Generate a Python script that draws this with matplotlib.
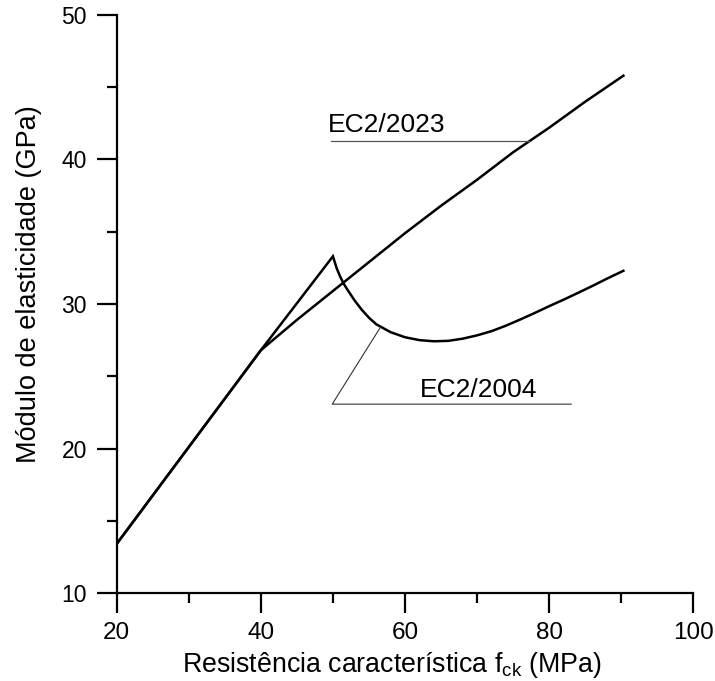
import matplotlib
matplotlib.use("Agg")
import matplotlib.pyplot as plt
from matplotlib.ticker import MultipleLocator

plt.rcParams['font.family'] = ['Liberation Sans', 'DejaVu Sans']
plt.rcParams['mathtext.fontset'] = 'custom'
plt.rcParams['mathtext.rm'] = 'Liberation Sans'
plt.rcParams['mathtext.it'] = 'Liberation Sans:italic'

# EC2/2023 curve
fck_2023 = [20, 40, 45, 50, 55, 60, 65, 70, 75, 80, 85, 90.3]
E_2023 = [13.4, 26.8, 28.9, 30.9, 32.9, 34.9, 36.8, 38.6, 40.5, 42.2, 44.0, 45.8]

# EC2/2004 curve
fck_2004 = [20, 40, 50, 50.5, 51, 51.5, 52, 53, 54, 55, 56, 58, 60, 62, 64, 66, 68,
            70, 72, 74, 76, 78, 80, 82, 84, 86, 88, 90.3]
E_2004 = [13.4, 26.8, 33.3, 32.5, 31.9, 31.4, 31.0, 30.25, 29.6, 29.05, 28.6, 28.05,
          27.7, 27.5, 27.42, 27.45, 27.6, 27.83, 28.12, 28.5, 28.93, 29.38, 29.85,
          30.3, 30.77, 31.25, 31.75, 32.3]

# annotation leaders
lead_2023_x = [49.8, 77.2]
lead_2023_y = [41.3, 41.3]
lead_2004_x = [56.6, 49.9, 83.05]
lead_2004_y = [28.4, 23.07, 23.07]

fig = plt.figure(figsize=(7.15, 6.81), dpi=100)
ax = fig.add_axes([0.1632, 0.1292, 0.9697 - 0.1632, 0.978 - 0.1292])

ax.plot(fck_2023, E_2023, color='black', lw=1.8, solid_joinstyle='miter')
ax.plot(fck_2004, E_2004, color='black', lw=1.8, solid_joinstyle='miter')

ax.plot(lead_2023_x, lead_2023_y, color='#555555', lw=0.9)
ax.plot(lead_2004_x, lead_2004_y, color='#333333', lw=0.8)
ax.text(49.35, 41.92, 'EC2/2023', fontsize=19, ha='left', va='baseline')
ax.text(62.1, 23.58, 'EC2/2004', fontsize=19, ha='left', va='baseline')

ax.set_xlim(20, 100)
ax.set_ylim(10, 50)
ax.xaxis.set_major_locator(MultipleLocator(20))
ax.xaxis.set_minor_locator(MultipleLocator(10))
ax.yaxis.set_major_locator(MultipleLocator(10))
ax.yaxis.set_minor_locator(MultipleLocator(5))

for s in ['top', 'right']:
    ax.spines[s].set_visible(False)
for s in ['left', 'bottom']:
    ax.spines[s].set_linewidth(1.6)

ax.tick_params(which='major', direction='out', length=14.4, width=1.6)
ax.tick_params(which='minor', direction='out', length=7.2, width=1.6)
ax.tick_params(axis='x', which='major', labelsize=17.5, pad=6.5)
ax.tick_params(axis='y', which='major', labelsize=16.5, pad=7)

ax.set_xlabel('Resistência característica f$_{\\mathrm{ck}}$ (MPa)', fontsize=19.3)
ax.set_ylabel('Módulo de elasticidade (GPa)', fontsize=19.5)
ax.xaxis.set_label_coords(0.477, -0.098)
ax.yaxis.set_label_coords(-0.13, 0.535)

fig.savefig('out.png', dpi=100)
